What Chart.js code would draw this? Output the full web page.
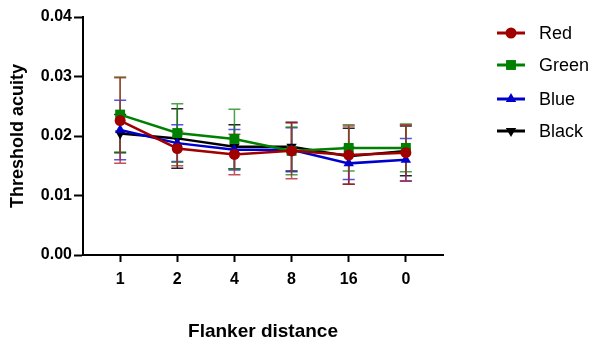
<!DOCTYPE html>
<html>
<head>
<meta charset="utf-8">
<script src="https://cdn.jsdelivr.net/npm/chart.js@4/dist/chart.umd.min.js"></script>
<style>
  body { margin: 0; background: #fff; }
  canvas { display: block; }
</style>
</head>
<body>
<canvas id="chart" width="600" height="348"></canvas>
<script>
const labels = ['1', '2', '4', '8', '16', '0'];

const red = [0.0226, 0.0179, 0.0169, 0.0175, 0.0168, 0.0172];
const redErr = [0.0072, 0.0029, 0.0034, 0.0047, 0.0049, 0.0047];
const green = [0.0236, 0.0205, 0.0195, 0.0175, 0.0180, 0.0180];
const greenErr = [0.0063, 0.0049, 0.0050, 0.0040, 0.0039, 0.0040];
const blue = [0.0210, 0.0188, 0.0177, 0.0177, 0.0154, 0.0160];
const blueErr = [0.0050, 0.0031, 0.0034, 0.0037, 0.0027, 0.0036];
const black = [0.0204, 0.0196, 0.0182, 0.0182, 0.0166, 0.0175];
const blackErr = [0.0032, 0.0050, 0.0037, 0.0041, 0.0047, 0.0042];

const FONT = "'Liberation Sans', Arial, sans-serif";

function points(vals) {
  return vals.map((v, i) => ({ x: i, y: v }));
}

function series(label, vals, err, color, barColor, style, radius, rotation) {
  return {
    label: label,
    data: points(vals),
    err: err,
    barColor: barColor,
    borderColor: color,
    backgroundColor: color,
    borderWidth: 2.5,
    pointStyle: style,
    pointRadius: radius,
    pointHoverRadius: radius,
    pointRotation: rotation || 0,
    pointBorderWidth: 0,
    fill: false,
    tension: 0
  };
}

// error bars, drawn under the lines
const errorBars = {
  id: 'errorBars',
  beforeDatasetsDraw(chart) {
    const ctx = chart.ctx;
    const xs = chart.scales.x, ys = chart.scales.y;
    ctx.save();
    chart.data.datasets.slice().reverse().forEach(ds => {
      ctx.strokeStyle = ds.barColor;
      ctx.lineWidth = 1.5;
      ds.data.forEach((p, i) => {
        const x = xs.getPixelForValue(p.x);
        const top = ys.getPixelForValue(p.y + ds.err[i]);
        const bot = ys.getPixelForValue(p.y - ds.err[i]);
        ctx.beginPath();
        ctx.moveTo(x, top); ctx.lineTo(x, bot);
        ctx.moveTo(x - 6, top); ctx.lineTo(x + 6, top);
        ctx.moveTo(x - 6, bot); ctx.lineTo(x + 6, bot);
        ctx.stroke();
      });
    });
    ctx.restore();
  }
};

// legend on the right: line with marker, then the name
const sideLegend = {
  id: 'sideLegend',
  afterDraw(chart) {
    const ctx = chart.ctx;
    const rows = [33, 65, 99, 131];
    ctx.save();
    chart.data.datasets.forEach((ds, i) => {
      const y = rows[i];
      ctx.strokeStyle = ds.borderColor;
      ctx.lineWidth = 3;
      ctx.beginPath();
      ctx.moveTo(497, y); ctx.lineTo(525, y);
      ctx.stroke();
      ctx.fillStyle = ds.backgroundColor;
      Chart.helpers.drawPoint(ctx, {
        pointStyle: ds.pointStyle,
        radius: ds.pointRadius,
        rotation: ds.pointRotation,
        borderWidth: 0
      }, 511, y);
      ctx.fillStyle = '#000';
      ctx.font = '18px ' + FONT;
      ctx.textBaseline = 'middle';
      ctx.fillText(ds.label, 539, y + 1);
    });
    ctx.restore();
  }
};

new Chart(document.getElementById('chart'), {
  type: 'line',
  data: {
    datasets: [
      series('Red', red, redErr, '#a00000', 'rgba(180,40,40,0.8)', 'circle', 5.5),
      series('Green', green, greenErr, '#008000', 'rgba(30,140,30,0.8)', 'rect', 7),
      series('Blue', blue, blueErr, '#0000cc', 'rgba(40,40,220,0.8)', 'triangle', 6),
      series('Black', black, blackErr, '#000000', 'rgba(0,0,0,0.85)', 'triangle', 6, 180)
    ]
  },
  options: {
    responsive: false,
    animation: false,
    devicePixelRatio: 1,
    layout: { padding: { top: 17, right: 157, left: 0, bottom: 0 } },
    plugins: {
      legend: { display: false },
      tooltip: { enabled: false }
    },
    scales: {
      x: {
        type: 'linear',
        min: -0.65,
        max: 5.65,
        afterBuildTicks(scale) {
          scale.ticks = labels.map((l, i) => ({ value: i }));
        },
        afterFit(scale) { scale.height = 93; },
        ticks: {
          callback: v => labels[v],
          color: '#000',
          padding: 8,
          font: { family: FONT, size: 16, weight: 'bold' }
        },
        grid: { drawOnChartArea: false, tickLength: 7, tickWidth: 2, color: '#000' },
        border: { color: '#000', width: 2 },
        title: {
          display: true,
          text: 'Flanker distance',
          color: '#000',
          padding: { top: 4, bottom: 5 },
          font: { family: FONT, size: 19, weight: 'bold' }
        }
      },
      y: {
        min: 0,
        max: 0.04,
        afterFit(scale) { scale.width = 83; },
        ticks: {
          stepSize: 0.01,
          callback: v => v.toFixed(2),
          color: '#000',
          padding: 2,
          font: { family: FONT, size: 16, weight: 'bold' }
        },
        grid: { drawOnChartArea: false, tickLength: 9, tickWidth: 2, color: '#000' },
        border: { color: '#000', width: 2 },
        title: {
          display: true,
          text: 'Threshold acuity',
          color: '#000',
          padding: { top: 7, bottom: 6 },
          font: { family: FONT, size: 18, weight: 'bold' }
        }
      }
    }
  },
  plugins: [errorBars, sideLegend]
});
</script>
</body>
</html>
